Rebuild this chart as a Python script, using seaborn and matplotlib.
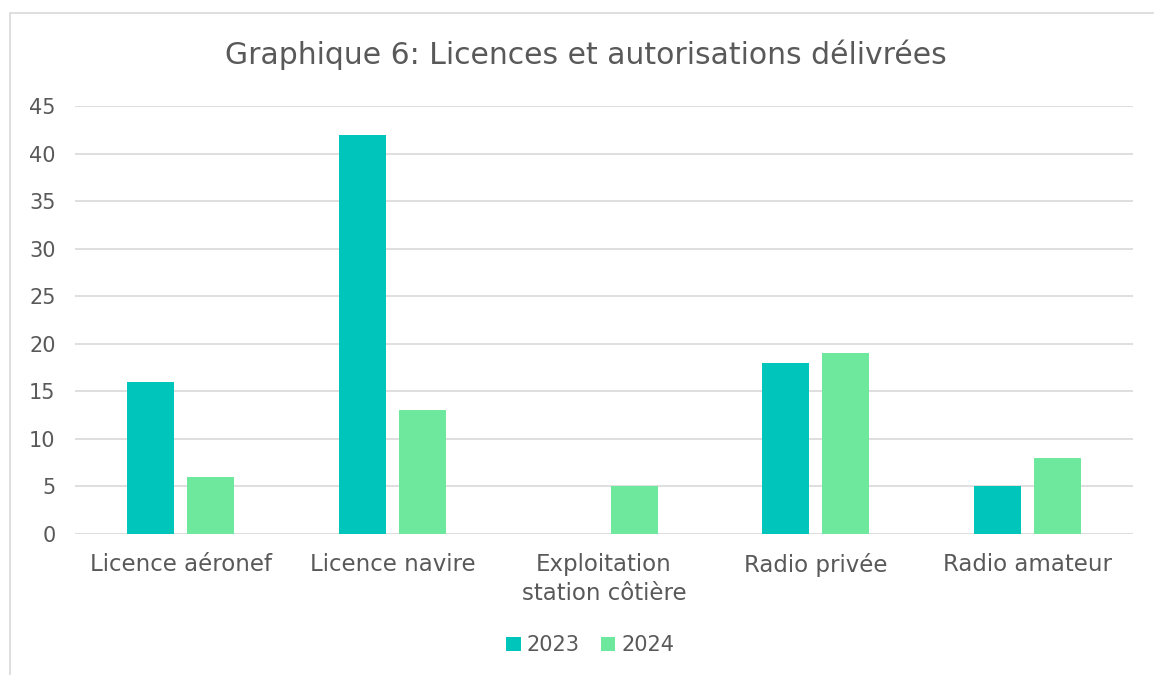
import pandas as pd
import matplotlib.pyplot as plt
import seaborn as sns
from matplotlib.patches import Rectangle

categories = ['Licence aéronef', 'Licence navire', 'Exploitation\nstation côtière',
              'Radio privée', 'Radio amateur']
values_2023 = [16, 42, 0, 18, 5]
values_2024 = [6, 13, 5, 19, 8]
years = ['2023', '2024']

df = pd.DataFrame({'categorie': categories * 2,
                   'valeur': values_2023 + values_2024,
                   'annee': [years[0]] * 5 + [years[1]] * 5})

sns.set_style('white')
plt.rcParams['font.family'] = ['DejaVu Sans']
grey = '#595959'

fig = plt.figure(figsize=(11.54, 6.75), dpi=100)
ax = fig.add_axes([0.065, 0.209, 0.917, 0.634])

sns.barplot(data=df, x='categorie', y='valeur', hue='annee', ax=ax,
            palette=['#00C5BA', '#6EE89C'], width=0.567, gap=0.217,
            saturation=1, linewidth=0, edgecolor='none', legend=True)

ax.set_ylim(0, 45)
ax.set_yticks(range(0, 46, 5))
ax.set_xlim(-0.5, 4.5)
ax.grid(axis='y', color='#D9D9D9', linewidth=1.2)
ax.set_axisbelow(True)
for s in ax.spines.values():
    s.set_visible(False)
ax.set_xlabel('')
ax.set_ylabel('')
ax.tick_params(axis='both', colors=grey, labelsize=15, length=0)
ax.tick_params(axis='y', pad=14)
ax.tick_params(axis='x', pad=14, labelsize=16.5)
for lbl in ax.get_xticklabels():
    lbl.set_linespacing(1.3)

# title centred on the whole chart box, not the plot area
fig.text(586 / 1154, 1 - 55 / 675, 'Graphique 6: Licences et autorisations délivrées',
         color=grey, fontsize=21.5, ha='center', va='center')

handles, labels = ax.get_legend_handles_labels()
ax.legend(handles, labels, loc='center', bbox_to_anchor=(0.487, -0.26),
          ncol=2, frameon=False, fontsize=15, labelcolor=grey,
          handlelength=0.7, handleheight=0.7, handletextpad=0.3,
          columnspacing=1.0)

fig.patches.append(Rectangle((10 / 1154, -0.1), 1.2, 1 - 13 / 675 + 0.1,
                             transform=fig.transFigure, fill=False,
                             edgecolor='#D9D9D9', linewidth=1.2))

fig.savefig('out.png', dpi=100, facecolor='white')
